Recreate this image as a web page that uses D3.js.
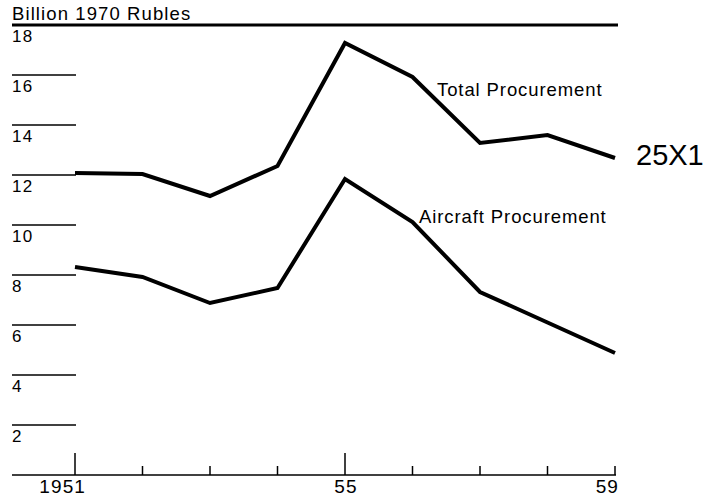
<!DOCTYPE html>
<html>
<head>
<meta charset="utf-8">
<script src="https://cdn.jsdelivr.net/npm/d3@7"></script>
<style>
  body { margin: 0; background: #fff; }
  text { font-family: "Liberation Sans", Arial, Helvetica, sans-serif; fill: #000; }
</style>
</head>
<body>
<div id="chart"></div>
<script>
// tamaño de la figura
const width = 713;
const height = 500;

// datos (miles de millones de rublos de 1970)
const years = [1951, 1952, 1953, 1954, 1955, 1956, 1957, 1958, 1959];
const totalProcurement = [12.08, 12.04, 11.16, 12.36, 17.28, 15.92, 13.28, 13.6, 12.68];
const aircraftProcurement = [8.32, 7.92, 6.88, 7.48, 11.84, 10.12, 7.32, 6.1, 4.88];
const yTicks = [2, 4, 6, 8, 10, 12, 14, 16, 18];
const xLabels = [{ year: 1951, text: "1951" }, { year: 1955, text: "55" }, { year: 1959, text: "59" }];
const longTicks = [1951, 1955];

// escalas
const x = d3.scaleLinear().domain([1951, 1959]).range([75, 615]);
const y = d3.scaleLinear().domain([0, 18]).range([475, 25]);

const svg = d3.select("#chart").append("svg")
  .attr("width", width)
  .attr("height", height);

// titulo del eje
svg.append("text")
  .attr("x", 12)
  .attr("y", 20)
  .style("font-size", "18.5px")
  .style("letter-spacing", "1.1px")
  .text("Billion 1970 Rubles");

// linea superior gruesa
svg.append("line")
  .attr("x1", 12).attr("x2", 618)
  .attr("y1", y(18)).attr("y2", y(18))
  .attr("stroke", "#000")
  .attr("stroke-width", 3);

// marcas cortas del eje y (excepto 18, que usa la linea superior)
svg.selectAll(".grid")
  .data(yTicks.filter(d => d !== 18))
  .enter().append("line")
  .attr("x1", 12).attr("x2", 76)
  .attr("y1", d => y(d)).attr("y2", d => y(d))
  .attr("stroke", "#000")
  .attr("stroke-width", 1.5);

svg.selectAll(".ylab")
  .data(yTicks)
  .enter().append("text")
  .attr("x", 12)
  .attr("y", d => y(d) + 17)
  .style("font-size", "17px")
  .style("letter-spacing", "1.2px")
  .text(d => d);

// eje x
svg.append("line")
  .attr("x1", 12).attr("x2", 616)
  .attr("y1", y(0)).attr("y2", y(0))
  .attr("stroke", "#000")
  .attr("stroke-width", 1.5);

svg.selectAll(".xtick")
  .data(years)
  .enter().append("line")
  .attr("x1", d => x(d)).attr("x2", d => x(d))
  .attr("y1", d => longTicks.includes(d) ? y(0) - 22 : y(0) - 9)
  .attr("y2", y(0))
  .attr("stroke", "#000")
  .attr("stroke-width", 1.5);

svg.selectAll(".xlab")
  .data(xLabels)
  .enter().append("text")
  .attr("x", d => d.year === 1951 ? x(d.year) + 11 : d.year === 1959 ? x(d.year) + 4 : x(d.year) + 1)
  .attr("y", 493)
  .attr("text-anchor", d => d.year === 1955 ? "middle" : "end")
  .style("font-size", "19px")
  .style("letter-spacing", "1.1px")
  .text(d => d.text);

// lineas de datos
const line = d3.line()
  .x((d, i) => x(years[i]))
  .y(d => y(d));

[totalProcurement, aircraftProcurement].forEach(serie => {
  svg.append("path")
    .datum(serie)
    .attr("fill", "none")
    .attr("stroke", "#000")
    .attr("stroke-width", 4)
    .attr("stroke-linejoin", "miter")
    .attr("d", line);
});

// etiquetas de las series
svg.append("text")
  .attr("x", 437)
  .attr("y", 96)
  .style("font-size", "18.5px")
  .style("letter-spacing", "0.9px")
  .text("Total Procurement");

svg.append("text")
  .attr("x", 419)
  .attr("y", 223)
  .style("font-size", "18.5px")
  .style("letter-spacing", "0.9px")
  .text("Aircraft Procurement");

// marca del documento
svg.append("text")
  .attr("x", 636)
  .attr("y", 165)
  .style("font-size", "29px")
  .text("25X1");
</script>
</body>
</html>
